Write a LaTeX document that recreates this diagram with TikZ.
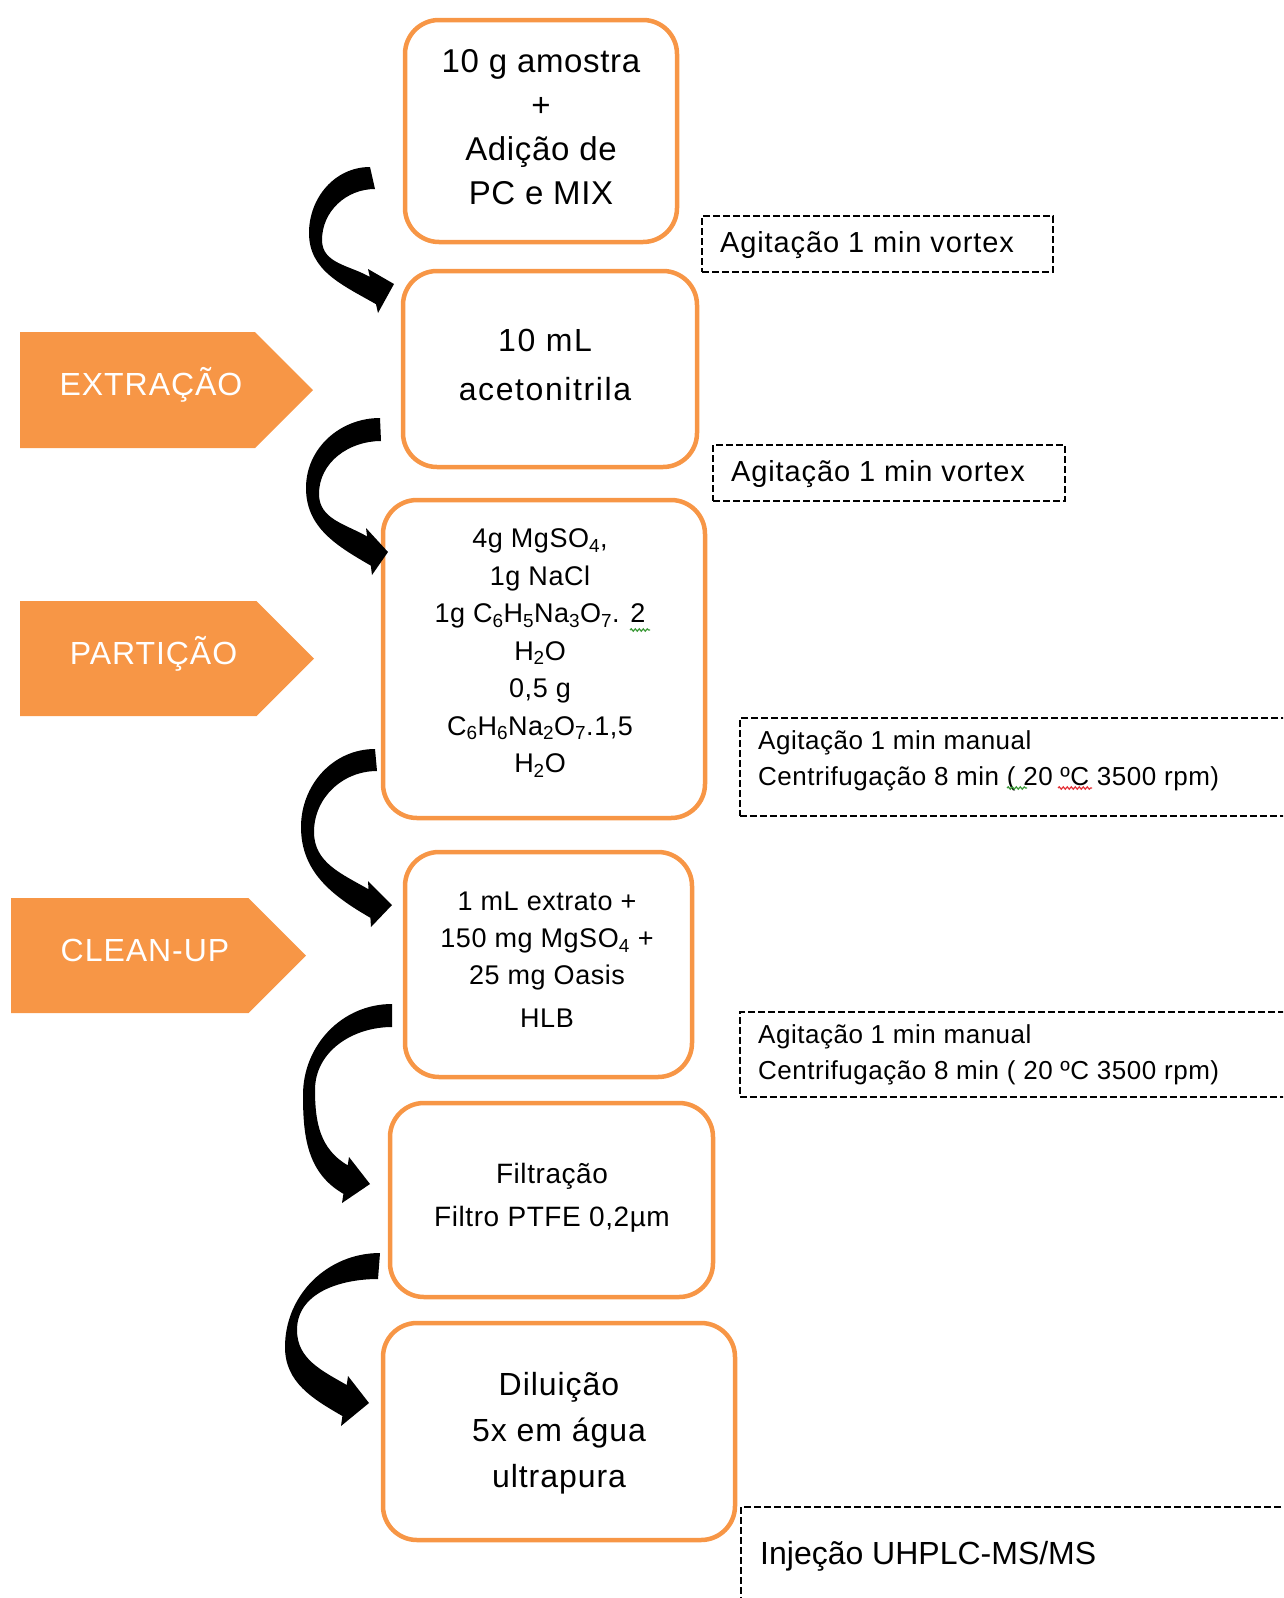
\documentclass[tikz,border=0pt]{standalone}
\usepackage{fontspec}
\setmainfont{Liberation Sans}
\usetikzlibrary{shapes.symbols,calc,decorations.pathmorphing}
\definecolor{tagorange}{HTML}{F79646}
\definecolor{spellred}{HTML}{E5343A}
\definecolor{grammargreen}{HTML}{3E9A3A}
\newcommand\chemsub[1]{\textsubscript{#1}}

\tikzset{
  stepbox/.style={draw=tagorange, line width=4.5pt, rounded corners=34pt, inner sep=0pt, outer sep=0pt},
  steptext/.style={align=center, inner sep=0pt},
  notebox/.style={draw=black, line width=2.4pt, dash pattern=on 7pt off 3pt, inner sep=0pt, outer sep=0pt, anchor=north west},
  notetext/.style={anchor=base west, inner sep=0pt, font=\fontsize{26}{36}\selectfont\addfontfeatures{LetterSpace=2}},
  tag/.style={signal, signal to=east, signal pointer angle=90, fill=tagorange, draw=none, inner sep=0pt, outer sep=0pt, anchor=west},
  tagtext/.style={anchor=base, inner sep=0pt, text=white, font=\fontsize{32}{38}\selectfont\addfontfeatures{LetterSpace=3}},
  squiggle/.style={decorate, decoration={snake, amplitude=1.1pt, segment length=4pt}, line width=1.3pt},
}

% thick bent arrow: crescent body that tapers in the middle, triangular head
\newcommand\bentarrow[1]{%
  \fill (#1tt) to[out=180,in=90] (#1ol) to[out=-90,in=150] ($(#1a)!0.8!(#1b)$)
    -- (#1b) -- (#1t) -- (#1a) -- ($(#1a)!0.18!(#1b)$)
    to[out=150,in=-90] (#1il) to[out=90,in=180] (#1tb) -- cycle;}

\begin{document}
\begin{tikzpicture}[x=1pt,y=1pt]
\path[use as bounding box] (0,0) rectangle (1283,-1598);
\clip (0,0) rectangle (1283,-1598);

% process steps
\node[stepbox, minimum width=272pt, minimum height=222pt] (b1) at (541,-131) {};
\node[stepbox, minimum width=294pt, minimum height=196pt] (b2) at (550,-369) {};
\node[stepbox, minimum width=322pt, minimum height=318pt] (b3) at (544,-659) {};
\node[stepbox, minimum width=287pt, minimum height=225pt] (b4) at (548.5,-964.5) {};
\node[stepbox, minimum width=323pt, minimum height=194pt] (b5) at (551.5,-1200) {};
\node[stepbox, minimum width=352pt, minimum height=217pt] (b6) at (559,-1431.5) {};

\node[steptext, font=\fontsize{33}{44}\selectfont\addfontfeatures{LetterSpace=2}] (b1text) at (541,-127.5)
  {10 g amostra\\+\\Adição de\\PC e MIX};
\node[steptext, font=\fontsize{32}{49}\selectfont\addfontfeatures{LetterSpace=5}] (b2text) at (545,-365)
  {10 mL\\acetonitrila};
\node[steptext, font=\fontsize{27}{37.5}\selectfont\addfontfeatures{LetterSpace=2}] (b3text) at (540,-653)
  {4g MgSO\chemsub{4},\\1g NaCl\\1g C\chemsub{6}H\chemsub{5}Na\chemsub{3}O\chemsub{7}. 2\\H\chemsub{2}O\\0,5 g\\C\chemsub{6}H\chemsub{6}Na\chemsub{2}O\chemsub{7}.1,5\\H\chemsub{2}O};
\node[steptext, font=\fontsize{27}{37}\selectfont\addfontfeatures{LetterSpace=2}] (b4text) at (547,-960)
  {1 mL extrato +\\150 mg MgSO\chemsub{4} +\\25 mg Oasis\\[6pt]HLB};
\node[steptext, font=\fontsize{28}{43}\selectfont\addfontfeatures{LetterSpace=2}] (b5text) at (552,-1198)
  {Filtração\\Filtro PTFE 0,2µm};
\node[steptext, font=\fontsize{32}{46}\selectfont\addfontfeatures{LetterSpace=3}] (b6text) at (559,-1433)
  {Diluição\\5x em água\\ultrapura};

% phase tags
\node[tag, minimum width=293pt, minimum height=116pt] (t1) at (20,-390) {};
\node[tag, minimum width=294pt, minimum height=115pt] (t2) at (20,-658.5) {};
\node[tag, minimum width=295pt, minimum height=115pt] (t3) at (11,-955.5) {};
\node[tagtext] (t1text) at (151,-395) {EXTRAÇÃO};
\node[tagtext] (t2text) at (153.5,-664) {PARTIÇÃO};
\node[tagtext] (t3text) at (145,-961) {CLEAN-UP};

% conditions
\node[notebox, minimum width=351pt, minimum height=56pt] (n1) at (702,-216) {};
\node[notebox, minimum width=352pt, minimum height=56pt] (n2) at (713,-445) {};
\node[notebox, minimum width=600pt, minimum height=98pt] (n3) at (740,-718) {};
\node[notebox, minimum width=600pt, minimum height=85pt] (n4) at (740,-1012) {};
\node[notebox, minimum width=600pt, minimum height=150pt] (n5) at (741,-1507) {};

\node[notetext, font=\fontsize{29}{36}\selectfont\addfontfeatures{LetterSpace=3}] (n1text) at (720,-252) {Agitação 1 min vortex};
\node[notetext, font=\fontsize{29}{36}\selectfont\addfontfeatures{LetterSpace=3}] (n2text) at (731,-481) {Agitação 1 min vortex};
\node[notetext] (n3texta) at (758,-749) {Agitação 1 min manual};
\node[notetext] (n3textb) at (758,-785) {Centrifugação 8 min ( 20 ºC 3500 rpm)};
\node[notetext] (n4texta) at (758,-1043) {Agitação 1 min manual};
\node[notetext] (n4textb) at (758,-1079) {Centrifugação 8 min ( 20 ºC 3500 rpm)};
\node[notetext, font=\fontsize{32}{38}\selectfont] (n5text) at (760,-1564) {Injeção UHPLC-MS/MS};

% proofing marks under the text
\draw[squiggle, grammargreen] (630,-630) -- (650,-630);
\draw[squiggle, grammargreen] (1007,-788) -- (1027,-788);
\draw[squiggle, spellred] (1058,-788) -- (1092,-788);

% bent arrows between the steps
\coordinate (a1tt) at (370,-167); \coordinate (a1tb) at (375,-189);
\coordinate (a1ol) at (309,-233); \coordinate (a1il) at (322,-240);
\coordinate (a1a) at (368,-269);  \coordinate (a1t) at (394,-284); \coordinate (a1b) at (378,-313);

\coordinate (a2tt) at (380,-418); \coordinate (a2tb) at (381,-441);
\coordinate (a2ol) at (306,-488); \coordinate (a2il) at (319,-494);
\coordinate (a2a) at (366,-528);  \coordinate (a2t) at (388,-552); \coordinate (a2b) at (372,-575);

\coordinate (a3tt) at (375,-749); \coordinate (a3tb) at (377,-771);
\coordinate (a3ol) at (301,-827); \coordinate (a3il) at (314,-832);
\coordinate (a3a) at (368,-881);  \coordinate (a3t) at (392,-905); \coordinate (a3b) at (371,-927);

\coordinate (a4tt) at (392,-1004); \coordinate (a4tb) at (392,-1027);
\coordinate (a4ol) at (303,-1095); \coordinate (a4il) at (315,-1090);
\coordinate (a4a) at (349,-1157);  \coordinate (a4t) at (370,-1184); \coordinate (a4b) at (342,-1203);

\coordinate (a5tt) at (380,-1253); \coordinate (a5tb) at (378,-1279);
\coordinate (a5ol) at (285,-1347); \coordinate (a5il) at (297,-1330);
\coordinate (a5a) at (348,-1376);  \coordinate (a5t) at (369,-1403); \coordinate (a5b) at (341,-1426);

\bentarrow{a1}
\bentarrow{a2}
\bentarrow{a3}
\bentarrow{a4}
\bentarrow{a5}
\end{tikzpicture}
\end{document}
